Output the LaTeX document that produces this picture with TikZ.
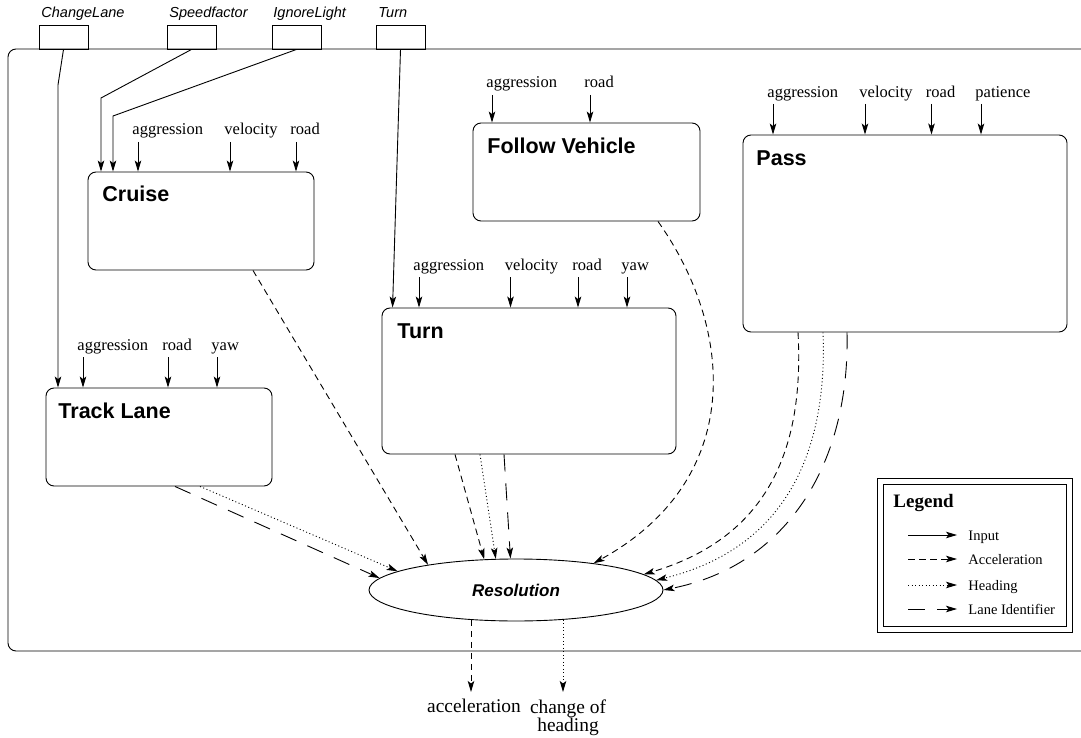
\documentclass[tikz,border=0pt]{standalone}
\usepackage{fontspec}
\setmainfont{Liberation Serif}
\setsansfont{Liberation Sans}
\usetikzlibrary{arrows.meta,shapes.geometric,fit,calc}

\tikzset{
  modbox/.style={draw, rounded corners=8pt, inner sep=0pt},
  modtitle/.style={anchor=base west, inner sep=0pt, font=\sffamily\bfseries\fontsize{21.5}{24}\selectfont},
  parm/.style={anchor=base west, inner sep=0pt, font=\fontsize{16.5}{18}\selectfont},
  ctrlbox/.style={draw, inner sep=0pt},
  ctrllabel/.style={anchor=base west, inner sep=0pt, font=\sffamily\itshape\fontsize{14.5}{16}\selectfont},
  arrowend/.style={-{Stealth[length=11pt,width=6.5pt,inset=2.5pt]}},
  feed/.style={arrowend},
  accel/.style={arrowend, dash pattern=on 6.5pt off 4.5pt},
  hdgline/.style={arrowend, dash pattern=on 1pt off 2.5pt},
  lane/.style={arrowend, dash pattern=on 17pt off 12pt},
  legtext/.style={anchor=base west, inner sep=0pt, font=\fontsize{14.5}{16}\selectfont},
  outlabel/.style={anchor=north, inner sep=0pt, align=center, font=\fontsize{19.4}{18.5}\selectfont},
}

\begin{document}
\begin{tikzpicture}[x=1pt, y=-1pt, line width=0.9pt]
\useasboundingbox (0,0) rectangle (1081,738);

% enclosing frame (open to the right)
\draw[rounded corners=8pt] (1081,49) -- (8,49) -- (8,651) -- (1081,651);

% control inputs along the top
\node[ctrlbox, fit={(39,25) (88,49)}] (clbox) {};
\node[ctrlbox, fit={(167,25) (216,49)}] (sfbox) {};
\node[ctrlbox, fit={(272,25) (321,49)}] (ilbox) {};
\node[ctrlbox, fit={(376,25) (425,49)}] (tnbox) {};
\node[ctrllabel] (cltxt) at (41,18) {ChangeLane};
\node[ctrllabel] (sftxt) at (169,18) {Speedfactor};
\node[ctrllabel] (iltxt) at (273,18) {IgnoreLight};
\node[ctrllabel] (tntxt) at (378,18) {Turn};

% behaviour modules
\node[modbox, fit={(88,172) (314,270)}] (cruise) {};
\node[modbox, fit={(473,123) (700,221)}] (follow) {};
\node[modbox, fit={(743,135) (1067,332)}] (pass) {};
\node[modbox, fit={(382,308) (676,454)}] (turn) {};
\node[modbox, fit={(46,388) (272,486)}] (track) {};

\node[modtitle] (cruiset) at (102,202) {Cruise};
\node[modtitle] (followt) at (487,154) {Follow Vehicle};
\node[modtitle] (passt) at (756,166) {Pass};
\node[modtitle] (turnt) at (397,338) {Turn};
\node[modtitle] (trackt) at (58,418) {Track Lane};

% parameter inputs of each module
\foreach \txt/\x [count=\i] in {aggression/132, velocity/224, road/290} {
  \node[parm] (cr\i) at (\x,135) {\txt};
  \draw[feed] ([xshift=6pt,yshift=-7pt]cr\i.base west) -- ([xshift=6pt]cr\i.base west |- cruise.north);
}
\foreach \txt/\x [count=\i] in {aggression/486, road/584} {
  \node[parm] (fv\i) at (\x,88) {\txt};
  \draw[feed] ([xshift=6pt,yshift=-7pt]fv\i.base west) -- ([xshift=6pt]fv\i.base west |- follow.north);
}
\foreach \txt/\x [count=\i] in {aggression/767, velocity/859, road/925.5, patience/975} {
  \node[parm] (ps\i) at (\x,98) {\txt};
  \draw[feed] ([xshift=6pt,yshift=-6pt]ps\i.base west) -- ([xshift=6pt]ps\i.base west |- pass.north);
}
\foreach \txt/\x [count=\i] in {aggression/413, velocity/504.5, road/572, yaw/621} {
  \node[parm] (tn\i) at (\x,270) {\txt};
  \draw[feed] ([xshift=6pt,yshift=-7pt]tn\i.base west) -- ([xshift=6pt]tn\i.base west |- turn.north);
}
\foreach \txt/\x [count=\i] in {aggression/77, road/162, yaw/211} {
  \node[parm] (tl\i) at (\x,350) {\txt};
  \draw[feed] ([xshift=6pt,yshift=-7pt]tl\i.base west) -- ([xshift=6pt]tl\i.base west |- track.north);
}

% control lines into the modules
\coordinate (clbend) at (58,85);
\coordinate (sfbend) at (101,98);
\coordinate (ilbend) at (113,116);
\draw[feed] (clbox.south) -- (clbend) -- (clbend |- track.north);
\draw[feed] (sfbox.south) -- (sfbend) -- (sfbend |- cruise.north);
\draw[feed] (ilbox.south) -- (ilbend) -- (ilbend |- cruise.north);
\draw[feed] (tnbox.south) -- ([xshift=11pt]turn.north west);

% arbitration
\node[draw, ellipse, minimum width=294pt, minimum height=62pt, inner sep=0pt,
      font=\sffamily\bfseries\itshape\fontsize{17}{19}\selectfont] (res) at (516,590) {Resolution};

% module outputs
\draw[accel] ([xshift=52pt]cruise.south) -- (res.164);
\draw[accel] ([xshift=-74pt]turn.south) -- (res.136);
\draw[hdgline] ([xshift=-49pt]turn.south) -- (res.123);
\draw[lane] ([xshift=-25pt]turn.south) -- (res.100);
\draw[lane] ([xshift=16pt]track.south) -- (res.175);
\draw[hdgline] ([xshift=41pt]track.south) -- (res.171);
\draw[accel] ([xshift=71.5pt]follow.south) .. controls (735,330) and (745,480) .. (res.19);
\draw[accel] ([xshift=-107pt]pass.south) .. controls (805,460) and (760,540) .. (res.7.6);
\draw[hdgline] ([xshift=-82pt]pass.south) .. controls (828,460) and (780,550) .. (res.4);
\draw[lane] ([xshift=-58pt]pass.south) .. controls (850,460) and (790,565) .. (res.0);

% final outputs
\coordinate (acctip) at (471,692);
\coordinate (hdgtip) at (563,692);
\draw[accel] (res.213 -| acctip) -- (acctip);
\draw[hdgline] (res.328 -| hdgtip) -- (hdgtip);
\node[outlabel] (accout) at (474,699) {acceleration};
\node[outlabel] (hdgout) at (568,699) {change of\\heading};

% legend
\node[draw, line width=0.8pt, fit={(877,478) (1072,632)}, inner sep=0pt] (legout) {};
\node[draw, line width=1pt, fit={(883,484) (1066,626)}, inner sep=0pt] (legin) {};
\node[anchor=base west, inner sep=0pt, font=\bfseries\fontsize{19}{21}\selectfont] (legtitle) at (893,507) {Legend};
\foreach \sty/\txt/\y [count=\i] in {feed/Input/535, accel/Acceleration/559, hdgline/Heading/585, lane/Lane Identifier/609} {
  \coordinate (ls\i) at (908,\y);
  \coordinate (le\i) at (957,\y);
  \draw[\sty] (ls\i) -- (le\i);
  \node[legtext] (lt\i) at (968,\y+5) {\txt};
}
\end{tikzpicture}
\end{document}
